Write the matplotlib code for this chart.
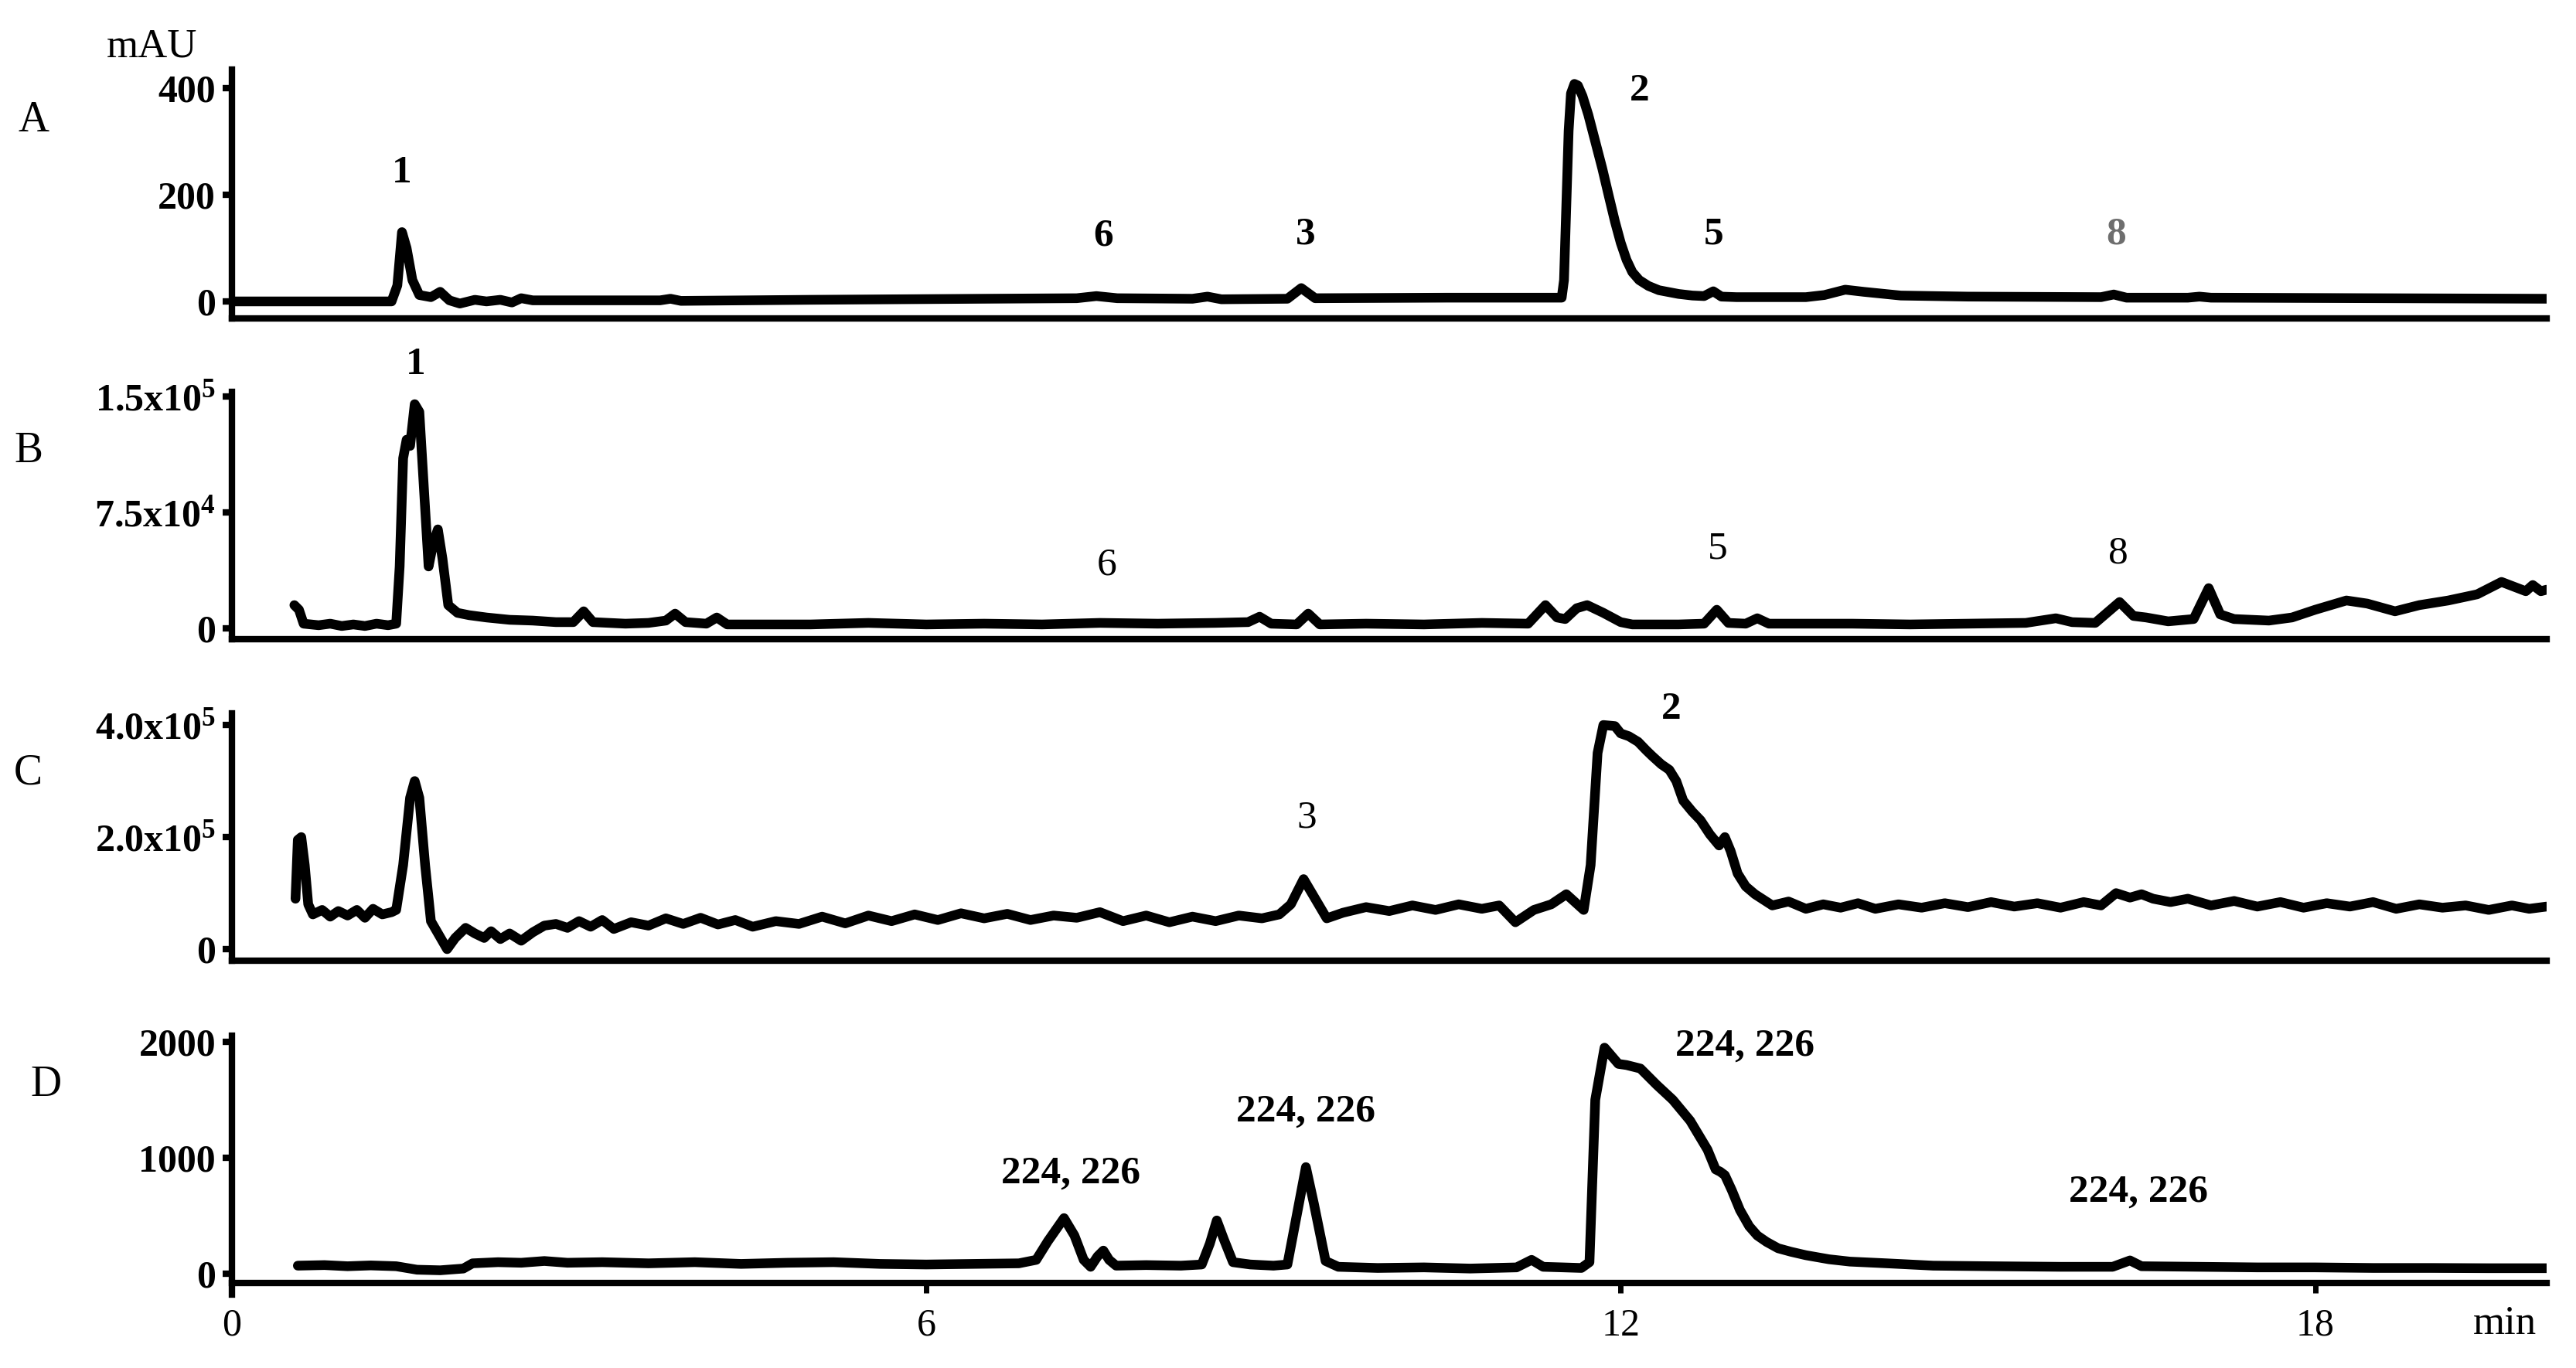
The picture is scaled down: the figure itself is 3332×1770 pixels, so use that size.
import numpy as np
from matplotlib import pyplot as plt

plt.rcParams['font.family'] = 'Liberation Serif'
plt.rcParams['mathtext.fontset'] = 'custom'
plt.rcParams['mathtext.rm'] = 'Liberation Serif:bold'
plt.rcParams['mathtext.bf'] = 'Liberation Serif:bold'
plt.rcParams['mathtext.default'] = 'rm'

# trace A: UV, mAU  (time [min], signal)
trace_a = [(0.0, 0), (1.38, 0), (1.43, 30), (1.47, 130), (1.51, 100), (1.56, 40), (1.62, 12),
           (1.72, 8), (1.80, 18), (1.88, 2), (1.97, -4), (2.10, 3), (2.20, 0), (2.32, 3),
           (2.42, -2), (2.50, 6), (2.60, 2), (3.70, 2), (3.79, 5), (3.88, 1), (5.0, 3),
           (6.5, 5), (7.30, 6), (7.47, 10), (7.65, 6), (8.30, 5), (8.43, 9), (8.55, 4),
           (9.12, 5), (9.24, 25), (9.36, 6), (10.5, 7), (11.49, 7), (11.51, 40), (11.53, 180),
           (11.55, 320), (11.57, 390), (11.60, 408), (11.63, 405), (11.67, 385), (11.72, 350),
           (11.78, 300), (11.84, 250), (11.90, 195), (11.95, 150), (12.00, 110), (12.05, 78),
           (12.10, 55), (12.16, 40), (12.24, 29), (12.33, 21), (12.50, 14), (12.62, 11),
           (12.72, 10), (12.80, 19), (12.87, 9), (13.0, 8), (13.6, 8), (13.76, 12),
           (13.94, 22), (14.10, 18), (14.42, 11), (15.0, 9), (16.15, 8), (16.26, 13),
           (16.37, 7), (16.9, 7), (17.0, 9), (17.1, 7), (20.0, 5)]

# trace B
trace_b = [(0.54, 15000), (0.58, 12000), (0.62, 3000), (0.75, 2000), (0.85, 3000), (0.95, 1500),
           (1.05, 2500), (1.15, 1500), (1.25, 3000), (1.35, 2000), (1.42, 3000), (1.45, 40000),
           (1.48, 110000), (1.51, 122000), (1.54, 118000), (1.58, 145000), (1.62, 140000),
           (1.66, 90000), (1.70, 40000), (1.74, 55000), (1.78, 64000), (1.82, 45000),
           (1.87, 15000), (1.95, 10000), (2.05, 8500), (2.2, 7000), (2.4, 5500), (2.6, 5000),
           (2.8, 4000), (2.95, 4000), (3.04, 11000), (3.12, 4000), (3.4, 3000), (3.6, 3500),
           (3.75, 5000), (3.83, 9500), (3.92, 4000), (4.1, 3000), (4.19, 7000), (4.28, 2500),
           (5.0, 2500), (5.5, 3500), (6.0, 2500), (6.5, 3000), (7.0, 2500), (7.5, 3500),
           (8.0, 3000), (8.5, 3500), (8.78, 4000), (8.88, 7500), (8.98, 3000), (9.20, 2500),
           (9.30, 9500), (9.40, 2500), (9.8, 3000), (10.3, 2500), (10.8, 3500), (11.2, 3000),
           (11.35, 15000), (11.45, 7000), (11.52, 6000), (11.62, 13000), (11.71, 15000),
           (11.85, 10000), (12.0, 4000), (12.1, 2500), (12.5, 2500), (12.72, 3000),
           (12.83, 12000), (12.93, 3500), (13.08, 3000), (13.18, 6500), (13.28, 3000),
           (14.0, 3000), (14.5, 2500), (15.0, 3000), (15.5, 3500), (15.76, 6500), (15.9, 4000),
           (16.1, 3500), (16.31, 17000), (16.43, 8000), (16.54, 7000), (16.73, 4500),
           (16.95, 6000), (17.08, 26000), (17.18, 9000), (17.3, 6000), (17.6, 5000),
           (17.8, 7000), (18.0, 12000), (18.27, 18000), (18.45, 16000), (18.69, 11000),
           (18.9, 15000), (19.15, 18000), (19.4, 22000), (19.61, 30000), (19.75, 26000),
           (19.82, 24000), (19.88, 28000), (19.95, 24000), (20.0, 25000)]

# trace C
trace_c = [(0.55, 90000), (0.57, 195000), (0.60, 200000), (0.63, 150000), (0.66, 80000),
           (0.70, 62000), (0.78, 70000), (0.85, 58000), (0.92, 68000), (1.0, 60000),
           (1.08, 70000), (1.15, 56000), (1.22, 72000), (1.30, 62000), (1.38, 66000),
           (1.42, 70000), (1.48, 150000), (1.54, 270000), (1.58, 300000), (1.62, 270000),
           (1.67, 150000), (1.72, 50000), (1.79, 25000), (1.86, 0), (1.93, 20000),
           (2.02, 38000), (2.1, 28000), (2.18, 20000), (2.24, 32000), (2.32, 18000),
           (2.4, 28000), (2.5, 15000), (2.6, 30000), (2.7, 42000), (2.8, 45000), (2.9, 38000),
           (3.0, 50000), (3.1, 40000), (3.2, 52000), (3.3, 36000), (3.45, 48000), (3.6, 42000),
           (3.75, 55000), (3.9, 45000), (4.05, 56000), (4.2, 44000), (4.35, 52000),
           (4.5, 40000), (4.7, 50000), (4.9, 45000), (5.1, 58000), (5.3, 46000), (5.5, 60000),
           (5.7, 50000), (5.9, 62000), (6.1, 52000), (6.3, 64000), (6.5, 55000), (6.7, 63000),
           (6.9, 52000), (7.1, 60000), (7.3, 56000), (7.5, 66000), (7.7, 50000), (7.9, 60000),
           (8.1, 48000), (8.3, 58000), (8.5, 50000), (8.7, 60000), (8.9, 55000),
           (9.05, 62000), (9.15, 80000), (9.26, 125000), (9.36, 90000), (9.46, 55000),
           (9.6, 65000), (9.8, 75000), (10.0, 68000), (10.2, 78000), (10.4, 70000),
           (10.6, 80000), (10.8, 72000), (10.95, 78000), (11.09, 48000), (11.25, 70000),
           (11.4, 80000), (11.53, 98000), (11.68, 70000), (11.74, 150000), (11.80, 350000),
           (11.85, 400000), (11.95, 398000), (12.0, 385000), (12.07, 380000), (12.15, 370000),
           (12.22, 355000), (12.27, 345000), (12.35, 330000), (12.42, 320000),
           (12.48, 300000), (12.54, 265000), (12.62, 245000), (12.69, 230000),
           (12.77, 205000), (12.85, 185000), (12.90, 200000), (12.95, 175000),
           (13.01, 135000), (13.08, 112000), (13.16, 98000), (13.31, 78000), (13.45, 85000),
           (13.6, 72000), (13.75, 80000), (13.9, 74000), (14.05, 82000), (14.2, 72000),
           (14.4, 80000), (14.6, 74000), (14.8, 82000), (15.0, 75000), (15.2, 84000),
           (15.4, 76000), (15.6, 82000), (15.8, 74000), (16.0, 84000), (16.15, 78000),
           (16.28, 100000), (16.40, 92000), (16.5, 98000), (16.6, 90000), (16.75, 84000),
           (16.9, 90000), (17.1, 78000), (17.3, 86000), (17.5, 76000), (17.7, 84000),
           (17.9, 74000), (18.1, 82000), (18.3, 76000), (18.5, 84000), (18.7, 72000),
           (18.9, 80000), (19.1, 74000), (19.3, 78000), (19.5, 70000), (19.7, 78000),
           (19.85, 72000), (20.0, 76000)]

# trace D
trace_d = [(0.57, 70), (0.8, 75), (1.0, 65), (1.2, 72), (1.42, 65), (1.6, 35), (1.8, 30),
           (2.0, 45), (2.08, 90), (2.3, 100), (2.5, 95), (2.7, 110), (2.9, 95), (3.2, 100),
           (3.6, 90), (4.0, 100), (4.4, 85), (4.8, 95), (5.2, 100), (5.6, 85), (6.0, 80),
           (6.4, 85), (6.8, 90), (6.95, 120), (7.05, 280), (7.19, 480), (7.28, 330),
           (7.36, 120), (7.42, 60), (7.48, 150), (7.53, 200), (7.58, 120), (7.64, 70),
           (7.9, 75), (8.2, 70), (8.38, 80), (8.45, 260), (8.51, 460), (8.57, 300),
           (8.65, 100), (8.8, 80), (9.0, 70), (9.12, 80), (9.2, 500), (9.28, 920),
           (9.35, 600), (9.45, 110), (9.56, 60), (9.9, 50), (10.3, 55), (10.7, 45),
           (11.1, 55), (11.23, 120), (11.33, 60), (11.5, 55), (11.66, 50), (11.73, 100),
           (11.78, 1500), (11.86, 1950), (11.92, 1880), (11.98, 1810), (12.05, 1800),
           (12.17, 1770), (12.31, 1630), (12.45, 1500), (12.60, 1320), (12.75, 1070),
           (12.82, 900), (12.86, 880), (12.9, 850), (12.96, 720), (13.03, 550), (13.11, 410),
           (13.18, 330), (13.26, 275), (13.36, 220), (13.47, 190), (13.6, 160), (13.8, 125),
           (13.98, 105), (14.3, 90), (14.7, 70), (15.2, 65), (15.8, 60), (16.25, 60),
           (16.40, 115), (16.5, 65), (17.0, 60), (17.5, 55), (18.0, 55), (18.5, 50),
           (19.0, 50), (19.5, 48), (20.0, 48)]

panel_names = ['A', 'B', 'C', 'D']
y_ticks = [[0, 200, 400], [0, 75000, 150000], [0, 200000, 400000], [0, 1000, 2000]]
y_tick_labels = [['0', '200', '400'],
                 ['0', '7.5x10$^{4}$', '1.5x10$^{5}$'],
                 ['0', '2.0x10$^{5}$', '4.0x10$^{5}$'],
                 ['0', '1000', '2000']]
y_limits = [(-32, 435), (-7000, 153000), (-20700, 420700), (-80, 2053)]
x_ticks = [0, 6, 12, 18]

# peak labels: (time, signal, text, colour, bold)
labels_a = [(1.47, 240, '1', 'black', True), (7.53, 123, '6', 'black', True),
            (9.28, 125, '3', 'black', True), (12.16, 394, '2', 'black', True),
            (12.80, 125, '5', 'black', True), (16.28, 125, '8', '#6e6e6e', True)]
labels_b = [(1.59, 170500, '1', 'black', True), (7.56, 41000, '6', 'black', False),
            (12.84, 51500, '5', 'black', False), (16.30, 48500, '8', 'black', False)]
labels_c = [(12.44, 427000, '2', 'black', True), (9.29, 234000, '3', 'black', False)]
labels_d = [(7.25, 860, '224, 226', 'black', True), (9.28, 1394, '224, 226', 'black', True),
            (13.07, 1960, '224, 226', 'black', True), (16.47, 700, '224, 226', 'black', True)]

traces = [trace_a, trace_b, trace_c, trace_d]
peak_labels = [labels_a, labels_b, labels_c, labels_d]

# axes boxes in figure fraction: bottom, height
boxes = [(0.7672, 0.1820), (0.5328, 0.1808), (0.2977, 0.1808), (0.0621, 0.1808)]
letter_pos = [(0.013, 0.912), (0.011, 0.670), (0.011, 0.435), (0.018, 0.207)]

fig = plt.figure(figsize=(33.32, 17.70), dpi=100)

for i in range(4):
    ax = fig.add_axes([0.0900, boxes[i][0], 0.8986, boxes[i][1]])
    tr = np.array(traces[i], dtype=float)
    ax.plot(tr[:, 0], tr[:, 1], color='black', lw=9, solid_joinstyle='round',
            solid_capstyle='round')
    ax.set_xlim(0, 20)
    ax.set_ylim(*y_limits[i])
    for s in ['top', 'right']:
        ax.spines[s].set_visible(False)
    for s in ['left', 'bottom']:
        ax.spines[s].set_linewidth(6)
    ax.set_yticks(y_ticks[i])
    ax.set_yticklabels(y_tick_labels[i], fontsize=36, fontweight='bold')
    ax.tick_params(axis='y', length=9, width=6, pad=6)
    if i < 3:
        ax.set_xticks([])
    else:
        ax.set_xticks(x_ticks)
        ax.set_xticklabels([str(t) for t in x_ticks], fontsize=36)
        ax.tick_params(axis='x', length=9, width=5, pad=14)
        ax.spines['left'].set_bounds(-180, y_limits[i][1])
    for (t, v, txt, col, bold) in peak_labels[i]:
        ax.text(t, v, txt, fontsize=37, color=col, ha='center', va='center',
                fontweight='bold' if bold else 'normal', clip_on=False)
    fig.text(letter_pos[i][0], letter_pos[i][1], panel_names[i], fontsize=40,
             ha='center', va='center')

fig.text(0.059, 0.966, 'mAU', fontsize=38, ha='center', va='center')
fig.text(0.9725, 0.032, 'min', fontsize=38, ha='center', va='center')

plt.savefig('out.png', dpi=100)
